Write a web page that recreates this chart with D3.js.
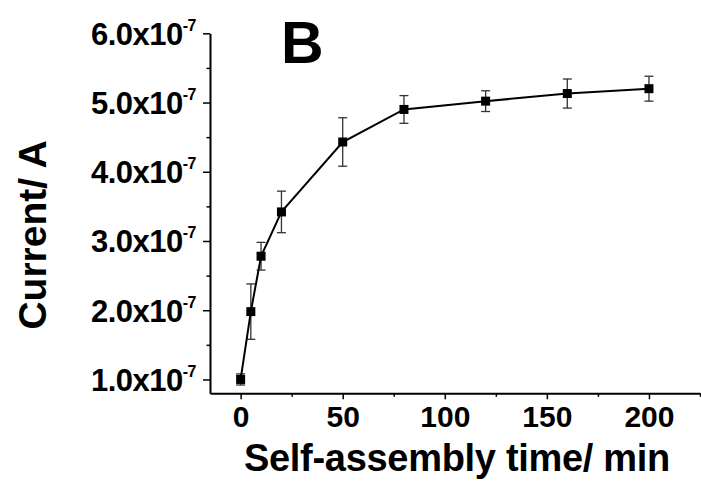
<!DOCTYPE html>
<html>
<head>
<meta charset="utf-8">
<script src="https://cdn.jsdelivr.net/npm/d3@7"></script>
<style>
  html, body { margin: 0; padding: 0; background: #fff; }
  svg { display: block; }
  .axis path, .axis line { stroke: #000; }
  text { font-family: "Liberation Sans", Arial, sans-serif; font-weight: bold; fill: #000; }
</style>
</head>
<body>
<svg id="chart" width="701" height="486"></svg>
<script>
// self-assembly time (min)
const times = [0, 5, 10, 20, 50, 80, 120, 160, 200];
// peak current (A)
const currents = [1.0e-7, 1.98e-7, 2.78e-7, 3.42e-7, 4.43e-7, 4.90e-7, 5.02e-7, 5.13e-7, 5.20e-7];
// error bars (A, +/-)
const errors = [0.08e-7, 0.40e-7, 0.20e-7, 0.30e-7, 0.35e-7, 0.20e-7, 0.15e-7, 0.21e-7, 0.18e-7];

const xTicks = [0, 50, 100, 150, 200];
const xMinor = [25, 75, 125, 175, 225];
const yTicks = [1e-7, 2e-7, 3e-7, 4e-7, 5e-7, 6e-7];
const yMinor = [1.5e-7, 2.5e-7, 3.5e-7, 4.5e-7, 5.5e-7];

const svg = d3.select("#chart");

const x = d3.scaleLinear().domain([-15, 225]).range([210, 700]);
const y = d3.scaleLinear().domain([0.8e-7, 6.0e-7]).range([393.3, 33.3]);

// x axis
const xAxis = svg.append("g")
    .attr("class", "axis")
    .attr("transform", `translate(0,${y.range()[0]})`)
    .call(d3.axisBottom(x).tickValues(xTicks).tickSize(6).tickSizeOuter(0));
xAxis.select(".domain").attr("stroke-width", 2);
xAxis.selectAll(".tick line").attr("stroke-width", 1.5);
xAxis.selectAll(".tick text")
    .attr("font-size", 30)
    .attr("dy", null)
    .attr("y", 34);

svg.append("g")
    .attr("class", "axis")
    .attr("transform", `translate(0,${y.range()[0]})`)
    .call(d3.axisBottom(x).tickValues(xMinor).tickSize(3.5).tickFormat(""))
    .call(g => g.select(".domain").remove())
    .selectAll(".tick line").attr("stroke-width", 1.5);

// y axis
const yAxis = svg.append("g")
    .attr("class", "axis")
    .attr("transform", `translate(${x.range()[0]},0)`)
    .call(d3.axisLeft(y).tickValues(yTicks).tickSize(7).tickSizeOuter(0).tickFormat(""));
yAxis.select(".domain").attr("stroke-width", 2);
yAxis.selectAll(".tick line").attr("stroke-width", 1.5);

yAxis.selectAll(".tick").each(function(d) {
  const t = d3.select(this).append("text")
      .attr("x", -14)
      .attr("y", 11)
      .attr("text-anchor", "end")
      .attr("font-size", 31)
      .attr("letter-spacing", -0.5);
  t.append("tspan").text((d / 1e-7).toFixed(1) + "x10");
  t.append("tspan").attr("font-size", 16).attr("dy", -14).text("-7");
});

svg.append("g")
    .attr("class", "axis")
    .attr("transform", `translate(${x.range()[0]},0)`)
    .call(d3.axisLeft(y).tickValues(yMinor).tickSize(3.5).tickFormat(""))
    .call(g => g.select(".domain").remove())
    .selectAll(".tick line").attr("stroke-width", 1.5);

// axis titles
svg.append("text")
    .attr("x", 457)
    .attr("y", 471)
    .attr("text-anchor", "middle")
    .attr("font-size", 38)
    .attr("letter-spacing", -0.3)
    .text("Self-assembly time/ min");

svg.append("text")
    .attr("transform", "translate(46,235) rotate(-90)")
    .attr("text-anchor", "middle")
    .attr("font-size", 39)
    .text("Current/ A");

// panel letter
svg.append("text")
    .attr("x", 281)
    .attr("y", 63)
    .attr("font-size", 59)
    .text("B");

const pts = times.map((t, i) => ({ t: t, c: currents[i], e: errors[i] }));

// error bars
const eb = svg.append("g").attr("stroke", "#333").attr("stroke-width", 1.3);
pts.forEach(d => {
  const cx = x(d.t);
  eb.append("line").attr("x1", cx).attr("x2", cx).attr("y1", y(d.c - d.e)).attr("y2", y(d.c + d.e));
  eb.append("line").attr("x1", cx - 4.5).attr("x2", cx + 4.5).attr("y1", y(d.c - d.e)).attr("y2", y(d.c - d.e));
  eb.append("line").attr("x1", cx - 4.5).attr("x2", cx + 4.5).attr("y1", y(d.c + d.e)).attr("y2", y(d.c + d.e));
});

// line
svg.append("path")
    .datum(pts)
    .attr("fill", "none")
    .attr("stroke", "#000")
    .attr("stroke-width", 2)
    .attr("d", d3.line().x(d => x(d.t)).y(d => y(d.c)));

// square markers
const sz = 9;
svg.append("g").selectAll("rect")
    .data(pts)
    .enter().append("rect")
    .attr("x", d => x(d.t) - sz / 2)
    .attr("y", d => y(d.c) - sz / 2)
    .attr("width", sz)
    .attr("height", sz)
    .attr("fill", "#000");
</script>
</body>
</html>
